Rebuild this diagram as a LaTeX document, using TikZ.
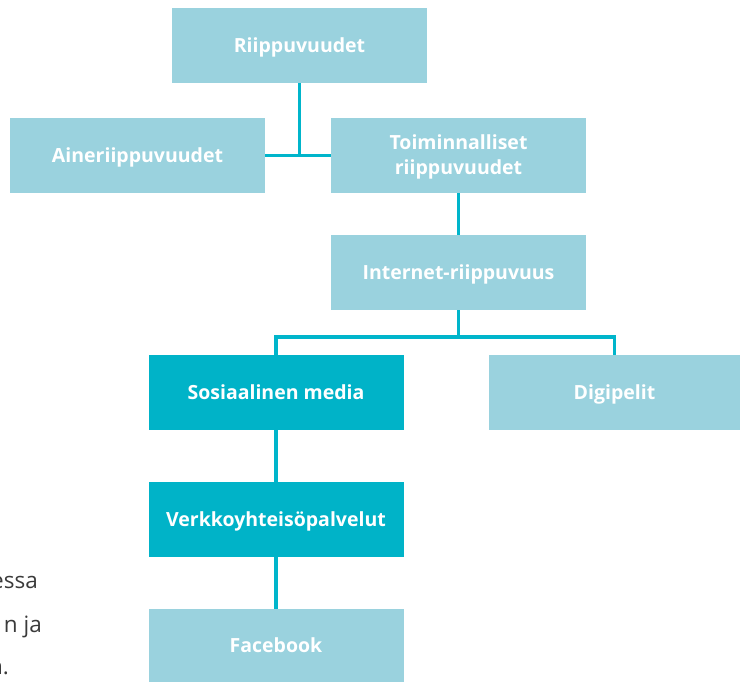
\documentclass[tikz,border=0pt]{standalone}
\usepackage{fontspec}
\setmainfont{Open Sans}
\definecolor{lightbox}{HTML}{9AD2DE}
\definecolor{darkbox}{HTML}{00B3C8}
\definecolor{linec}{HTML}{00B5CB}
\definecolor{txtgray}{HTML}{3A3A3A}
\begin{document}
\begin{tikzpicture}[x=1pt,y=-1pt,
  lbox/.style={fill=lightbox, text=white, inner sep=0pt, align=center,
    font=\bfseries\fontsize{19.5}{25}\selectfont,
    text height=14pt, text depth=0pt,
    minimum width=255pt, minimum height=75pt},
  dbox/.style={lbox, fill=darkbox},
  conn/.style={draw=linec, line width=3.5pt},
  sidetext/.style={text=txtgray, inner sep=0pt, anchor=base east,
    font=\fontsize{22.5}{28}\selectfont}]
\useasboundingbox (0,0) rectangle (740,682);
\node[lbox] (riip) at (299.5,45.5) {Riippuvuudet};
\node[lbox] (aine) at (137.5,155.5) {Aineriippuvuudet};
\node[lbox, text height=39pt] (toim) at (458.5,155.5) {Toiminnalliset\\riippuvuudet};
\node[lbox] (inet) at (458.5,272.5) {Internet-riippuvuus};
\node[dbox] (some) at (276,392.5) {Sosiaalinen media};
\node[lbox, minimum width=251pt] (digi) at (614.5,392.5) {Digipelit};
\node[dbox] (verk) at (276,519.5) {Verkkoyhteisöpalvelut};
\node[lbox, minimum height=73pt] (face) at (276,645.5) {Facebook};
\coordinate (br) at (458.5,337);
\draw[conn] (riip.south) -- (riip.south |- aine.east);
\draw[conn] (aine.east) -- (toim.west);
\draw[conn] (toim.south) -- (inet.north);
\draw[conn] (inet.south) -- (br);
\draw[conn] (some.north) |- (br) -| (digi.north);
\draw[conn] (some.south) -- (verk.north);
\draw[conn] (verk.south) -- (face.north);
\begin{scope}
\clip (0,0) rectangle (740,682);
\node[sidetext] (t1) at (38,588) {essa};
\node[sidetext] (t2) at (42,632) {n ja};
\node[sidetext] (t3) at (9,674) {n.};
\end{scope}
\end{tikzpicture}
\end{document}
